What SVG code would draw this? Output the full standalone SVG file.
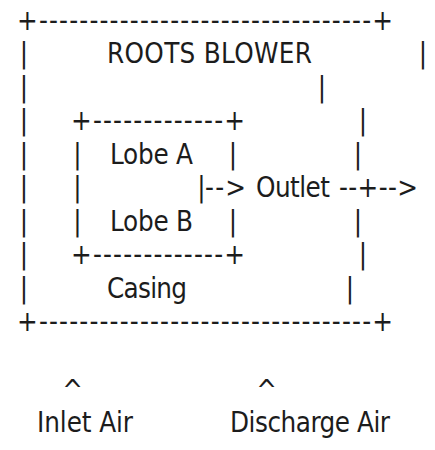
<svg xmlns="http://www.w3.org/2000/svg" width="435" height="450" viewBox="0 0 435 450">
<style>
text{font-family:"DejaVu Sans Condensed","DejaVu Sans",sans-serif;font-stretch:condensed;font-size:27.5px;fill:#1c1c1c}
.m{text-anchor:middle}
</style>
<rect width="435" height="450" fill="#ffffff"/>
<g id="blower">
<text x="17" y="29.5" textLength="376">+---------------------------------+</text>
<text class="m" x="24" y="63">|</text>
<text x="107" y="63" textLength="205">ROOTS BLOWER</text>
<text class="m" x="423" y="63">|</text>
<text class="m" x="24" y="96.5">|</text>
<text class="m" x="322" y="96.5">|</text>
<text class="m" x="24" y="130">|</text>
<text class="m" x="363" y="130">|</text>
<text class="m" x="24" y="163.5">|</text>
<text class="m" x="358" y="163.5">|</text>
<text class="m" x="24" y="197">|</text>
<text class="m" x="24" y="230.5">|</text>
<text class="m" x="358" y="230.5">|</text>
<text class="m" x="24" y="264">|</text>
<text class="m" x="363" y="264">|</text>
<text class="m" x="24" y="297.5">|</text>
<text x="107" y="297.5" textLength="80">Casing</text>
<text class="m" x="350" y="297.5">|</text>
<text x="17" y="331" textLength="376">+---------------------------------+</text>
</g>
<g id="lobes">
<text x="71" y="130" textLength="174">+-------------+</text>
<text class="m" x="77.5" y="163.5">|</text>
<text x="110" y="163.5" textLength="83">Lobe A</text>
<text class="m" x="233" y="163.5">|</text>
<text class="m" x="77.5" y="197">|</text>
<text class="m" x="201.5" y="197">|</text>
<text class="m" x="77.5" y="230.5">|</text>
<text x="110" y="230.5" textLength="83">Lobe B</text>
<text class="m" x="233" y="230.5">|</text>
<text x="71" y="264" textLength="174">+-------------+</text>
</g>
<g id="outlet">
<text x="256" y="197" textLength="74">Outlet</text>
</g>
<g id="inlet-air">
<text x="37" y="431.5" textLength="96">Inlet Air</text>
</g>
<g id="discharge-air">
<text x="230" y="431.5" textLength="160">Discharge Air</text>
</g>
<g id="connectors">
<text x="205" y="197" textLength="41">--&gt;</text>
<text x="339" y="197" textLength="79">--+--&gt;</text>
<text class="m" x="72.5" y="400">^</text>
<text class="m" x="266.5" y="400">^</text>
</g>
</svg>
